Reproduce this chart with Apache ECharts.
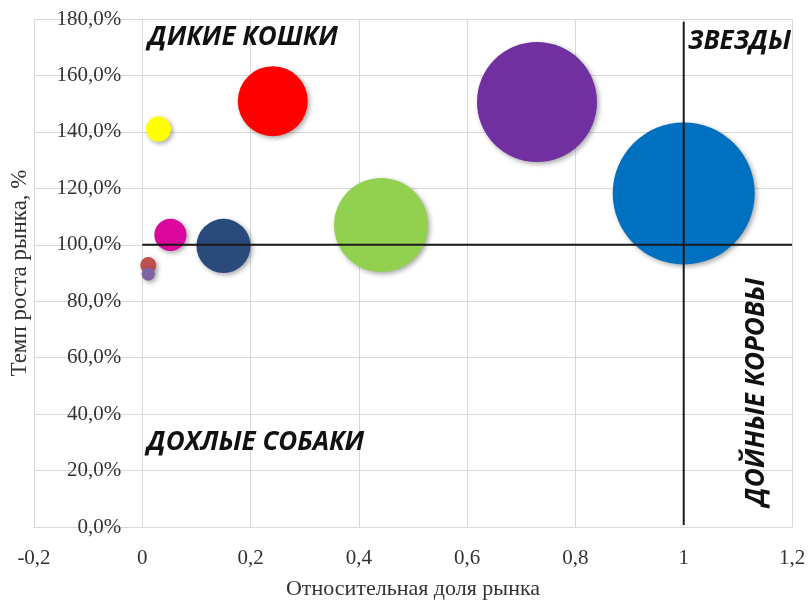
<!DOCTYPE html>
<html>
<head>
<meta charset="utf-8">
<script src="https://cdn.jsdelivr.net/npm/echarts@6/dist/echarts.min.js"></script>
<style>
  html, body { margin: 0; padding: 0; background: #fff; }
  #chart { width: 809px; height: 603px; }
</style>
</head>
<body>
<div id="chart"></div>
<script>
// Bubble data (relative market share, market growth %, bubble size ~ area)
const bubbleNames = ['Жёлтый', 'Красный', 'Фиолетовый', 'Синий', 'Зелёный', 'Тёмно-синий', 'Пурпурный', 'Малый красный', 'Малый фиолетовый'];
const xValues = [0.03, 0.241, 0.729, 1.0, 0.441, 0.15, 0.052, 0.011, 0.011];
const yValues = [141.0, 150.9, 150.6, 118.2, 107.0, 99.6, 103.5, 92.8, 89.6];
const sizes   = [3.1, 24.3, 71.4, 100, 43.8, 14.5, 5.1, 1.27, 0.84];
const colors  = ['#ffff00', '#ff0000', '#7030a0', '#0070c0', '#92d050', '#2a4a7c', '#d9079b', '#c0504d', '#8064a2'];

// Divider lines
const hLine = [[0, 100], [1.2, 100]];
const vLine = [[1, 0.7], [1, 179]];

// Axis settings
const xMin = -0.2, xMax = 1.2, xStep = 0.2;
const yMin = 0, yMax = 180, yStep = 20;

const quadrantLabels = ['ДИКИЕ КОШКИ', 'ЗВЕЗДЫ', 'ДОХЛЫЕ СОБАКИ', 'ДОЙНЫЕ КОРОВЫ'];
const xTitle = 'Относительная доля рынка';
const yTitle = 'Темп роста рынка, %';

const chart = echarts.init(document.getElementById('chart'), null, { renderer: 'canvas' });

const serif = '"Liberation Serif", "Times New Roman", serif';
const sans = '"Open Sans", "Noto Sans", sans-serif';
const gridColor = '#d9d9d9';

const W = 809, H = 603;
const gridLeft = 34, gridRight = 17, gridTop = 19, gridBottom = 76;
// pixel offset of the value axis so that it sits at x = 0
const yAxisOffset = -(W - gridLeft - gridRight) * (0 - xMin) / (xMax - xMin);

const quadStyle = { fontFamily: sans, fontWeight: 'bold', fontStyle: 'italic', fontSize: 26, fill: '#111' };

const option = {
  animation: false,
  backgroundColor: '#ffffff',
  grid: { left: gridLeft, right: gridRight, top: gridTop, bottom: gridBottom, containLabel: false, outerBoundsMode: 'none' },
  xAxis: {
    type: 'value', min: xMin, max: xMax, interval: xStep,
    name: xTitle, nameLocation: 'middle', nameGap: 51,
    nameTextStyle: { fontFamily: serif, fontSize: 22, color: '#333' },
    axisLine: { show: true, onZero: false, lineStyle: { color: gridColor, width: 1 } },
    axisTick: { show: false },
    axisLabel: {
      margin: 21, fontFamily: serif, fontSize: 21, color: '#333',
      formatter: v => String(Math.round(v * 10) / 10).replace('.', ',')
    },
    splitLine: { show: true, lineStyle: { color: gridColor, width: 1 } }
  },
  yAxis: {
    type: 'value', min: yMin, max: yMax, interval: yStep,
    offset: yAxisOffset,
    name: yTitle, nameLocation: 'middle', nameGap: 111, nameRotate: 90,
    nameTextStyle: { fontFamily: serif, fontSize: 23, color: '#333' },
    axisLine: { show: true, onZero: false, lineStyle: { color: gridColor, width: 1 } },
    axisTick: { show: false },
    axisLabel: {
      margin: 21, fontFamily: serif, fontSize: 21, color: '#333',
      padding: [10, 0, 0, 0],
      formatter: v => v.toFixed(1).replace('.', ',') + '%'
    },
    splitLine: { show: true, lineStyle: { color: gridColor, width: 1 } }
  },
  series: [
    {
      type: 'scatter',
      z: 2,
      symbol: 'circle',
      data: xValues.map((x, i) => ({
        name: bubbleNames[i],
        value: [x, yValues[i], sizes[i]],
        itemStyle: { color: colors[i] }
      })),
      symbolSize: v => 142 * Math.sqrt(v[2] / 100),
      itemStyle: {
        opacity: 1,
        shadowBlur: 5, shadowOffsetX: 2, shadowOffsetY: 2, shadowColor: 'rgba(0,0,0,0.35)'
      }
    },
    {
      type: 'line', z: 5, data: hLine, symbol: 'none', silent: true,
      lineStyle: { color: '#1a1a1a', width: 2 }
    },
    {
      type: 'line', z: 5, data: vLine, symbol: 'none', silent: true,
      lineStyle: { color: '#1a1a1a', width: 2 }
    }
  ],
  graphic: [
    { type: 'text', left: 148, top: 25, z: 10, style: Object.assign({ text: quadrantLabels[0] }, quadStyle) },
    { type: 'text', left: 688, top: 29, z: 10, style: Object.assign({ text: quadrantLabels[1] }, quadStyle) },
    { type: 'text', left: 147, top: 430, z: 10, style: Object.assign({ text: quadrantLabels[2] }, quadStyle) },
    { type: 'text', x: 757, y: 392, rotation: Math.PI / 2, z: 10,
      style: Object.assign({ text: quadrantLabels[3], align: 'center', verticalAlign: 'middle' }, quadStyle) }
  ]
};

chart.setOption(option);
</script>
</body>
</html>
